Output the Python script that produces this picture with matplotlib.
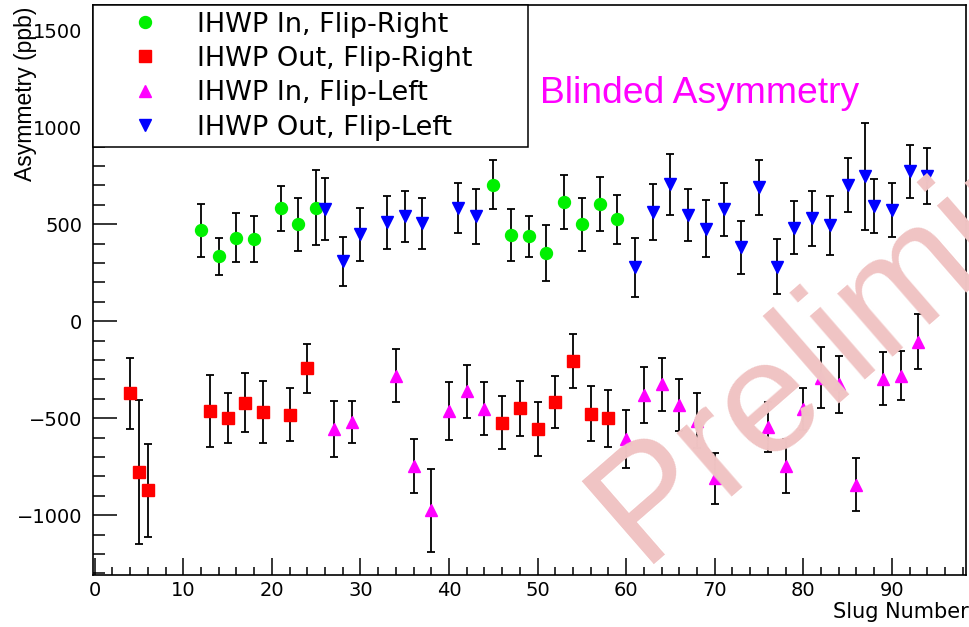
import matplotlib
matplotlib.use("Agg")
import matplotlib.pyplot as plt
from matplotlib.lines import Line2D
from matplotlib.ticker import MultipleLocator, FuncFormatter

plt.rcParams["font.family"] = ["DejaVu Sans"]

# IHWP In, Flip-Right
in_right_slug = [12, 14, 16, 18, 21, 23, 25, 45, 47, 49, 51, 53, 55, 57, 59]
in_right_asym = [468, 335, 431, 423, 582, 499, 586, 704, 445, 438, 350, 616, 499, 604, 525]
in_right_err = [135, 96, 125, 119, 115, 137, 193, 126, 133, 107, 145, 140, 137, 137, 125]

# IHWP Out, Flip-Right
out_right_slug = [4, 5, 6, 13, 15, 17, 19, 22, 24, 46, 48, 50, 52, 54, 56, 58]
out_right_asym = [-372, -778, -871, -463, -498, -419, -469, -481, -243,
                  -522, -448, -554, -416, -204, -477, -501]
out_right_err = [183, 371, 240, 185, 130, 150, 160, 137, 127,
                 139, 142, 140, 136, 140, 142, 147]

# IHWP In, Flip-Left
in_left_slug = [27, 29, 34, 36, 38, 40, 42, 44, 60, 62, 64, 66, 68, 70,
                76, 78, 80, 82, 84, 86, 89, 91, 93]
in_left_asym = [-555, -518, -280, -744, -975, -461, -362, -451, -606, -379,
                -326, -431, -512, -810, -545, -745, -452, -292, -326, -842,
                -297, -280, -105]
in_left_err = [145, 108, 135, 139, 215, 150, 135, 137, 150, 145, 137, 133,
               140, 133, 130, 138, 110, 157, 145, 135, 137, 127, 141]

# IHWP Out, Flip-Left
out_left_slug = [26, 28, 30, 33, 35, 37, 41, 43, 61, 63, 65, 67, 69, 71, 73,
                 75, 77, 79, 81, 83, 85, 87, 88, 90, 92, 94]
out_left_asym = [578, 310, 449, 509, 540, 505, 585, 540, 277, 564, 705, 549,
                 477, 577, 382, 690, 282, 483, 530, 494, 702, 747, 594, 575,
                 772, 748]
out_left_err = [158, 126, 137, 136, 133, 132, 129, 140, 150, 145, 159, 134,
                147, 136, 136, 140, 140, 136, 142, 152, 138, 277, 138, 139,
                136, 144]

series = [
    ("IHWP In, Flip-Right", in_right_slug, in_right_asym, in_right_err, "o", "#00F000", 8.6),
    ("IHWP Out, Flip-Right", out_right_slug, out_right_asym, out_right_err, "s", "#FF0000", 8.4),
    ("IHWP In, Flip-Left", in_left_slug, in_left_asym, in_left_err, "^", "#FF00FF", 8.2),
    ("IHWP Out, Flip-Left", out_left_slug, out_left_asym, out_left_err, "v", "#0000FF", 8.2),
]

W, H = 969, 627
fig = plt.figure(figsize=(W / 100, H / 100), dpi=100)
ax = fig.add_axes([92.5 / W, 52 / H, (966 - 92.5) / W, 570 / H])

handles = []
for label, xs, ys, es, mk, col, ms in series:
    ax.errorbar(xs, ys, yerr=es, fmt=mk, color=col, ms=ms, mec=col,
                ecolor="black", elinewidth=1.3, capsize=2.6, capthick=1.3)
    handles.append(Line2D([], [], ls="none", marker=mk, color=col, mec=col,
                          ms=ms, label=label))

ax.set_xlim(-0.25, 98.37)
ax.set_ylim(-1308, 1630)

ax.xaxis.set_major_locator(MultipleLocator(10))
ax.xaxis.set_minor_locator(MultipleLocator(2))
ax.yaxis.set_major_locator(MultipleLocator(500))
ax.yaxis.set_minor_locator(MultipleLocator(100))

ax.tick_params(axis="both", which="both", direction="in", top=False,
               right=False, width=1.1, color="black", labelsize=14)
ax.tick_params(axis="y", which="major", length=17.3, pad=7.5)
ax.tick_params(axis="y", which="minor", length=8.6)
ax.tick_params(axis="x", which="major", length=12.2, pad=4.5)
ax.tick_params(axis="x", which="minor", length=6.1)
ax.yaxis.set_major_formatter(
    FuncFormatter(lambda v, p: f"{int(v)}".replace("-", "\u2212")))

for sp in ax.spines.values():
    sp.set_linewidth(1.2)
    sp.set_color("black")

ax.set_ylabel("Asymmetry (ppb)", loc="top", fontsize=16.5,
              family=["Liberation Sans", "DejaVu Sans"])
ax.yaxis.set_label_coords(-0.0635, 0.997)
ax.set_xlabel("Slug Number", loc="right", fontsize=15)
ax.xaxis.set_label_coords(1.0028, -0.048)

leg = ax.legend(handles=handles, loc="upper left",
                bbox_to_anchor=(0, 0, 0.4989, 1.0), mode="expand",
                borderaxespad=0, fontsize=19.5, frameon=True, fancybox=False,
                edgecolor="black", framealpha=1, borderpad=0.24,
                labelspacing=0.31, handlelength=3.4, handletextpad=0.21,
                numpoints=1)
leg.get_frame().set_linewidth(1.1)

fig.text(540 / W, 1 - 103.3 / H, "Blinded Asymmetry", color="#FF00FF",
         fontsize=26.8, family=["Liberation Sans", "DejaVu Sans"],
         ha="left", va="baseline")

fig.text(641 / W, 1 - 564 / H, "Preliminary", color="#F0C4C4",
         fontsize=115, family=["Liberation Sans", "DejaVu Sans"],
         rotation=41, rotation_mode="anchor", ha="left", va="baseline",
         zorder=10)

fig.savefig("out.png", dpi=100)
